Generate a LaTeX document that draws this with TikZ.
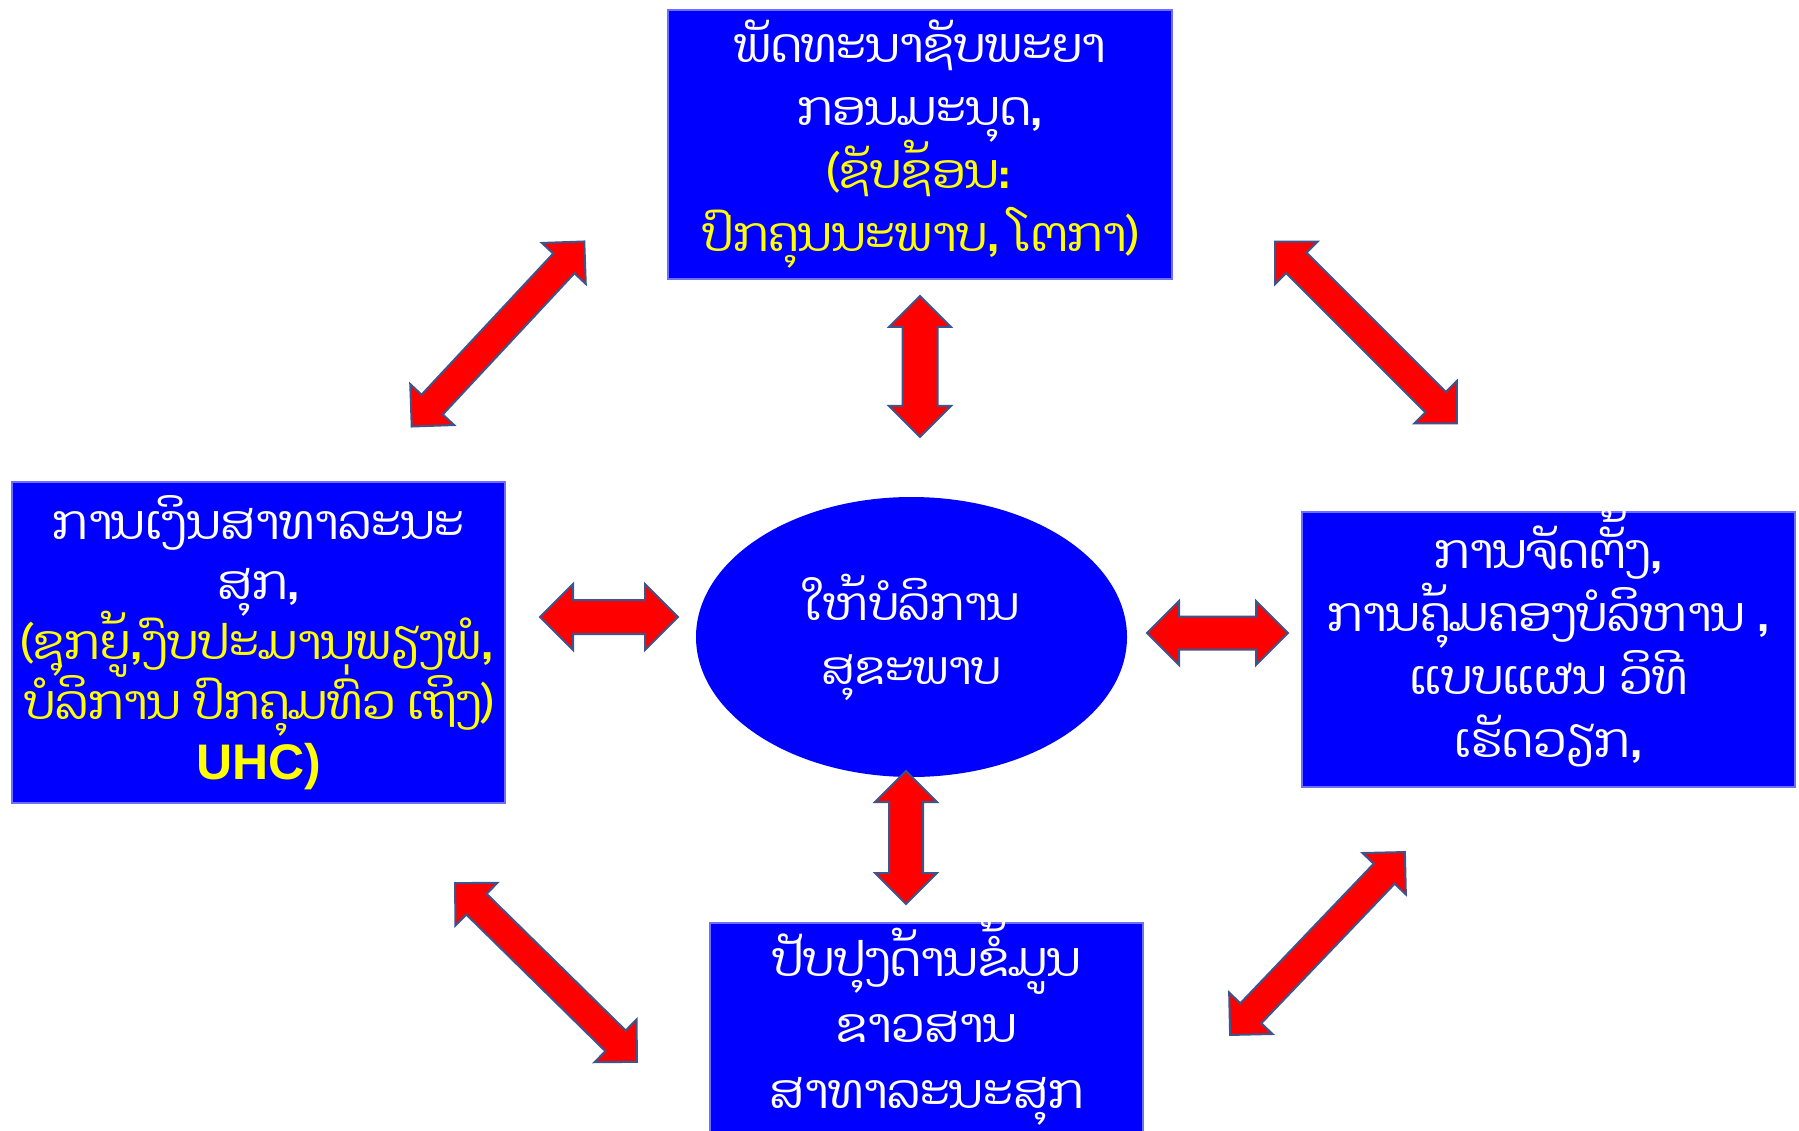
\documentclass[tikz,border=0pt]{standalone}
\usepackage{fontspec}
\setmainfont{Liberation Sans}
\newfontfamily\laofont[Script=Lao]{Dhyana}
\newfontfamily\uhcfont{Liberation Sans}
\definecolor{boxblue}{RGB}{0,0,255}
\definecolor{boxedge}{RGB}{110,110,255}
\definecolor{arrred}{RGB}{255,0,0}
\definecolor{arredge}{RGB}{60,85,140}
\definecolor{laoyellow}{RGB}{255,255,0}
\newcommand\tightlines{\lineskiplimit=-100pt\relax\lineskip=0pt\relax}
% #1 cx, #2 cy, #3 angle, #4 length, #5 head half width (=head length), #6 shaft half width
\newcommand\blockarr[6]{%
  \begin{scope}[shift={(#1,#2)},rotate=#3]
    \draw[blockarrow] ({-#4/2},0) -- ({-#4/2+#5},{#5}) -- ({-#4/2+#5},{#6})
      -- ({#4/2-#5},{#6}) -- ({#4/2-#5},{#5}) -- ({#4/2},0)
      -- ({#4/2-#5},{-#5}) -- ({#4/2-#5},{-#6}) -- ({-#4/2+#5},{-#6})
      -- ({-#4/2+#5},{-#5}) -- cycle;
  \end{scope}}
\tikzset{
  blockarrow/.style={fill=arrred, draw=arredge, line width=2pt, line join=miter},
  bluebox/.style={rectangle, draw=boxedge, line width=2pt, fill=boxblue, inner sep=0pt},
  blueoval/.style={ellipse, fill=boxblue, inner sep=0pt},
  laotext/.style={inner sep=0pt, align=center, text=white,
    font=\laofont\fontsize{48}{#1}\selectfont\tightlines},
  laotext/.default=62
}
\usetikzlibrary{shapes.geometric}
\begin{document}
\begin{tikzpicture}[x=1pt,y=-1pt]
  \useasboundingbox (0,0) rectangle (1799,1131);
  \clip (0,0) rectangle (1799,1131);
  \fill[white] (0,0) rectangle (1799,1131);

  \node[bluebox, minimum width=504pt, minimum height=269pt] (top) at (920,144.5) {};
  \node[laotext=63] (toptext) at (top.center)
    {ພັດທະນາຊັບພະຍາ\\ກອນມະນຸດ,\\\textcolor{laoyellow}{(ຊັບຊ້ອນ:}\\\textcolor{laoyellow}{ປົກຄຸນນະພາບ, ໂຕກາ)}};

  \node[bluebox, minimum width=493pt, minimum height=321pt] (left) at (258.5,642.5) {};
  \node[laotext=60] (lefttext) at (left.center)
    {ການເງິນສາທາລະນະ\\ສຸກ,\\\textcolor{laoyellow}{(ຊຸກຍູ້,ງົບປະມານພຽງພໍ,}\\\textcolor{laoyellow}{ບໍລິການ ປົກຄຸມທົ່ວ ເຖິງ)}\\\textcolor{laoyellow}{\uhcfont\bfseries\fontsize{50}{60}\selectfont UHC)}};

  \node[bluebox, minimum width=493pt, minimum height=275pt] (right) at (1548.5,649.5) {};
  \node[laotext=63, yshift=11pt] (righttext) at (right.center)
    {ການຈັດຕັ້ງ,\\ການຄຸ້ມຄອງບໍລິຫານ ,\\ແບບແຜນ ວິທີ\\ເຮັດວຽກ,};

  \node[bluebox, minimum width=433pt, minimum height=216pt] (bottom) at (926.5,1031) {};
  \node[laotext=66, yshift=9pt] (bottomtext) at (bottom.center)
    {ປັບປຸງດ້ານຂໍ້ມູນ\\ຂາວສານ\\ສາທາລະນະສຸກ};

  \node[blueoval, minimum width=431pt, minimum height=280pt] (center) at (911.5,637) {};
  \node[laotext=64, font=\laofont\fontsize{46}{64}\selectfont\tightlines] (centertext) at (center.center)
    {ໃຫ້ບໍລິການ\\ສຸຂະພາບ};

  % block arrows
  \blockarr{498}{334}{47}{253}{30}{14.5}
  \blockarr{1366}{332.5}{-45}{257}{30}{14.5}
  \blockarr{546}{972.5}{-44.5}{255}{30}{14.5}
  \blockarr{1317.5}{943.5}{46.3}{253}{30}{14.5}
  \blockarr{609}{617}{0}{138}{33}{17}
  \blockarr{1217.5}{633}{0}{141}{32}{16.5}
  \blockarr{920}{366.5}{90}{141}{31}{17.5}
  \blockarr{906}{837.5}{90}{133}{31}{17}
\end{tikzpicture}
\end{document}
